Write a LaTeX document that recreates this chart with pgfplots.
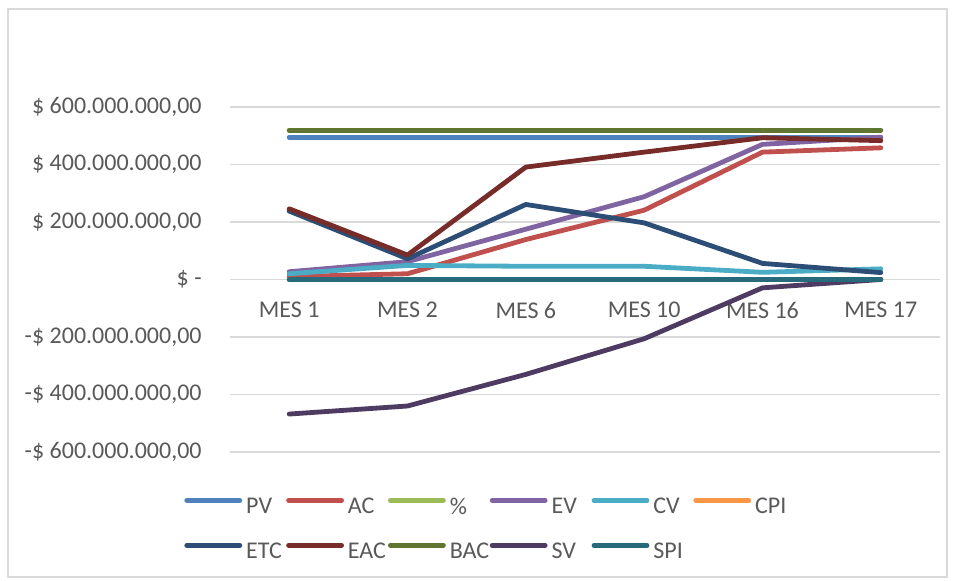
\documentclass[border=0pt]{standalone}
\usepackage{pgfplots}
\usepackage{pgfplotstable}
\pgfplotsset{compat=1.18}
\usepackage{fontspec}
\setmainfont{Carlito}
\definecolor{txt}{HTML}{595959}
\definecolor{grd}{HTML}{D9D9D9}
\definecolor{cPV}{HTML}{4F81BD}
\definecolor{cAC}{HTML}{C0504D}
\definecolor{cPCT}{HTML}{9BBB59}
\definecolor{cEV}{HTML}{8064A2}
\definecolor{cCV}{HTML}{4BACC6}
\definecolor{cCPI}{HTML}{F79646}
\definecolor{cETC}{HTML}{2C4D75}
\definecolor{cEAC}{HTML}{772C2A}
\definecolor{cBAC}{HTML}{5F7530}
\definecolor{cSV}{HTML}{4D3B62}
\definecolor{cSPI}{HTML}{276A7C}
% values in millions of $
\pgfplotstableread{
x PV AC PCT EV CV CPI ETC EAC BAC SV SPI
0 495 10 0 27 20 0 238 246 519 -468 0
1 495 20 0 62 49 0 72 85 519 -440 0
2 495 139 0 175 46 0 261 391 519 -330 0
3 495 241 0 288 46 0 197 443 519 -206 0
4 495 443 0 470 25 0 56 493 519 -29 0
5 495 458 0 495 37 0 24 483 519 0 0
}\datatable
\begin{document}
\begin{tikzpicture}
\path[use as bounding box] (0pt,0pt) rectangle (478pt,290pt);
\draw[grd, line width=0.75pt] (4pt,1.5pt) rectangle (473.5pt,285.5pt);
\begin{axis}[
  at={(115pt,64pt)}, anchor=south west,
  scale only axis, width=355pt, height=172.5pt,
  xmin=-0.5, xmax=5.5, ymin=-600, ymax=600,
  axis x line=middle, axis y line=left,
  axis line style={draw=none},
  major tick length=0pt,
  xtick={0,1,2,3,4,5},
  xticklabels={MES 1,MES 2,MES 6,MES 10,MES 16,MES 17},
  ytick={-600,-400,-200,0,200,400,600},
  yticklabels={{-\$ 600.000.000,00},{-\$ 400.000.000,00},{-\$ 200.000.000,00},{\$ -\hspace{5.5pt}},{\$ 200.000.000,00},{\$ 400.000.000,00},{\$ 600.000.000,00}},
  ymajorgrids, major grid style={grd, line width=0.9pt},
  tick label style={font=\fontsize{12}{14}\selectfont, text=txt},
  yticklabel style={anchor=east, inner xsep=0pt, xshift=-14pt},
  xticklabel style={anchor=north, inner ysep=0pt, yshift=-11pt},
  every axis plot/.append style={line width=2.4pt, line cap=round, line join=round},
  clip=false,
  legend columns=6,
  legend image code/.code={\draw[#1, line cap=round] (0pt,0.35em) -- (26.5pt,0.35em);},
  legend style={draw=none, fill=none, inner sep=0pt, at={(-0.0648,-0.225)}, anchor=west,
    font=\fontsize{12}{14}\selectfont, text=txt,
    nodes={inner xsep=2pt, inner ysep=1pt, text width=18pt, align=left},
    row sep=11pt},
  legend cell align=left,
]
\addplot[cPV] table[x=x,y=PV]{\datatable};
\addlegendentry{PV}
\addplot[cAC] table[x=x,y=AC]{\datatable};
\addlegendentry{AC}
\addplot[cPCT] table[x=x,y=PCT]{\datatable};
\addlegendentry{\%}
\addplot[cEV] table[x=x,y=EV]{\datatable};
\addlegendentry{EV}
\addplot[cCV] table[x=x,y=CV]{\datatable};
\addlegendentry{CV}
\addplot[cCPI] table[x=x,y=CPI]{\datatable};
\addlegendentry{CPI}
\addplot[cETC] table[x=x,y=ETC]{\datatable};
\addlegendentry{ETC}
\addplot[cEAC] table[x=x,y=EAC]{\datatable};
\addlegendentry{EAC}
\addplot[cBAC] table[x=x,y=BAC]{\datatable};
\addlegendentry{BAC}
\addplot[cSV] table[x=x,y=SV]{\datatable};
\addlegendentry{SV}
\addplot[cSPI] table[x=x,y=SPI]{\datatable};
\addlegendentry{SPI}
\end{axis}
\end{tikzpicture}
\end{document}
